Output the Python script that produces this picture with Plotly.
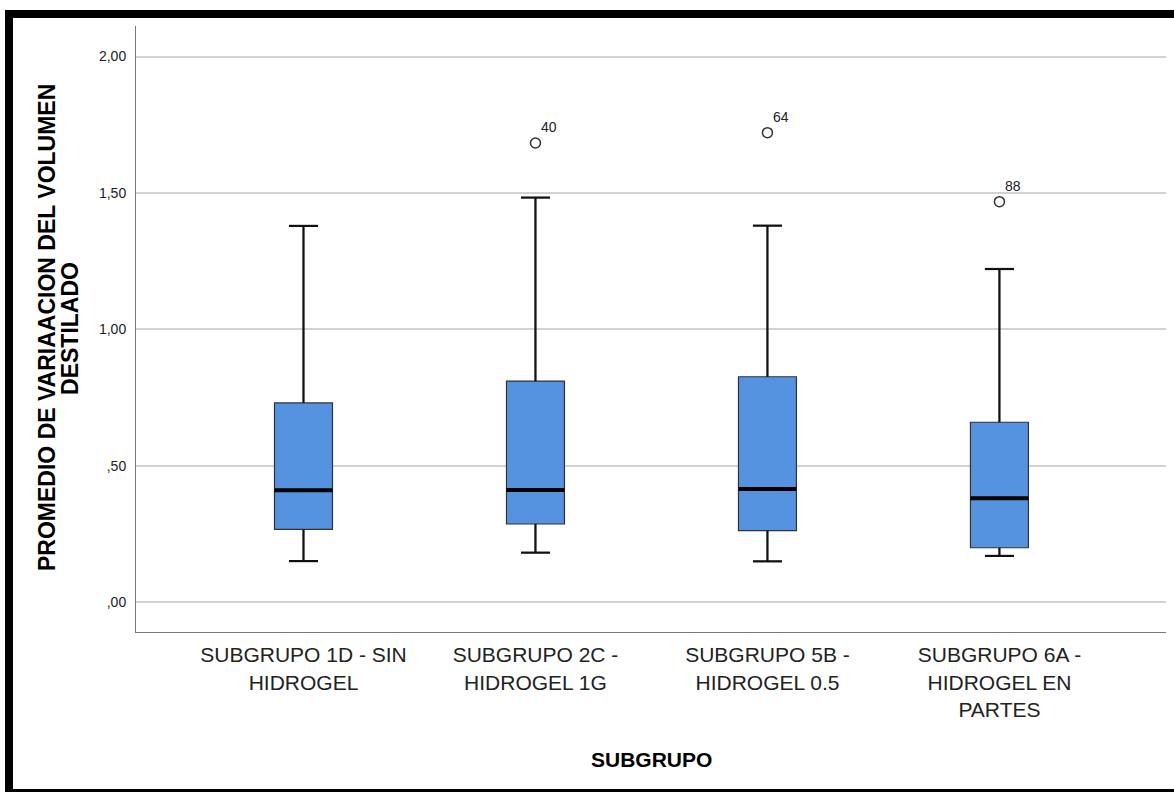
import plotly.graph_objects as go

# Box-plot summary per subgroup
categories = [
    "SUBGRUPO 1D - SIN<br>HIDROGEL",
    "SUBGRUPO 2C -<br>HIDROGEL 1G",
    "SUBGRUPO 5B -<br>HIDROGEL 0.5",
    "SUBGRUPO 6A -<br>HIDROGEL EN<br>PARTES",
]
q1 = [0.266, 0.286, 0.262, 0.199]
median = [0.410, 0.411, 0.414, 0.380]
q3 = [0.730, 0.810, 0.826, 0.659]
lower_whisker = [0.150, 0.181, 0.149, 0.169]
upper_whisker = [1.379, 1.483, 1.380, 1.221]

# Outliers: subgroup index, value, case id
outlier_group = [1, 2, 3]
outlier_value = [1.683, 1.721, 1.468]
outlier_id = ["40", "64", "88"]

y_tickvals = [0.0, 0.5, 1.0, 1.5, 2.0]
y_ticktext = [",00", ",50", "1,00", "1,50", "2,00"]

FONT = "Liberation Sans, Arial, sans-serif"
BOX_W = 0.25
CAP_HALF = BOX_W / 4
positions = list(range(len(categories)))

fig = go.Figure()

fig.add_trace(go.Box(
    x=positions, q1=q1, median=median, q3=q3,
    lowerfence=lower_whisker, upperfence=upper_whisker,
    width=BOX_W, whiskerwidth=0.5, boxpoints=False,
    fillcolor="#5593e0", line=dict(color="#333333", width=1.2),
    hoverinfo="skip", showlegend=False,
))

# Heavier whiskers, caps and medians on top of the boxes
wx, wy = [], []
for p, lo, a, b, hi in zip(positions, lower_whisker, q1, q3, upper_whisker):
    wx += [p, p, None, p, p, None]
    wy += [lo, a, None, b, hi, None]
    wx += [p - CAP_HALF, p + CAP_HALF, None, p - CAP_HALF, p + CAP_HALF, None]
    wy += [lo, lo, None, hi, hi, None]
fig.add_trace(go.Scatter(x=wx, y=wy, mode="lines",
                         line=dict(color="#111111", width=2.2),
                         hoverinfo="skip", showlegend=False))

mx, my = [], []
for p, m in zip(positions, median):
    mx += [p - BOX_W / 2, p + BOX_W / 2, None]
    my += [m, m, None]
fig.add_trace(go.Scatter(x=mx, y=my, mode="lines",
                         line=dict(color="#000000", width=4),
                         hoverinfo="skip", showlegend=False))

fig.add_trace(go.Scatter(
    x=outlier_group, y=outlier_value, mode="markers",
    marker=dict(symbol="circle-open", size=10,
                line=dict(color="#333333", width=1.5), color="#333333"),
    hoverinfo="skip", showlegend=False,
))
for g, v, t in zip(outlier_group, outlier_value, outlier_id):
    fig.add_annotation(x=g, y=v, text=t, showarrow=False,
                       xshift=14, yshift=16,
                       font=dict(family=FONT, size=14, color="#222222"))

# Axis titles
fig.add_annotation(xref="paper", yref="paper", x=-0.0864, y=0.5017,
                   text="PROMEDIO DE VARIAACION DEL VOLUMEN", textangle=-90,
                   showarrow=False, xanchor="center", yanchor="middle",
                   font=dict(family=FONT, size=23, color="#000000", weight="bold"))
fig.add_annotation(xref="paper", yref="paper", x=-0.0641, y=0.5017,
                   text="DESTILADO", textangle=-90,
                   showarrow=False, xanchor="center", yanchor="middle",
                   font=dict(family=FONT, size=23, color="#000000", weight="bold"))
fig.add_annotation(xref="paper", yref="paper", x=0.5, y=-0.2112,
                   text="SUBGRUPO", showarrow=False,
                   xanchor="center", yanchor="middle",
                   font=dict(family=FONT, size=21, color="#000000", weight="bold"))

# Outer frame
fig.add_shape(type="rect", xref="paper", yref="paper",
              x0=-0.1233, x1=1.0175, y0=-0.2657, y1=1.0198,
              line=dict(color="#000000", width=8), layer="above")

fig.update_layout(
    width=1174, height=792,
    margin=dict(l=136, r=8, t=26, b=160),
    paper_bgcolor="white", plot_bgcolor="white",
    font=dict(family=FONT, color="#222222"),
    xaxis=dict(
        range=[-0.722, 3.718], tickvals=positions, ticktext=categories,
        showgrid=False, zeroline=False, showline=True,
        linecolor="#7a7a7a", linewidth=1, ticks="", ticklabelstandoff=4,
        tickfont=dict(family=FONT, size=21, color="#222222"),
    ),
    yaxis=dict(
        range=[-0.110, 2.112], tickvals=y_tickvals, ticktext=y_ticktext,
        showgrid=True, gridcolor="#d2d2d2", gridwidth=1.5,
        zeroline=False, showline=True, linecolor="#7a7a7a", linewidth=1,
        ticks="", ticklabelstandoff=6,
        tickfont=dict(family=FONT, size=14, color="#222222"),
    ),
)

fig.write_html("out.html")
